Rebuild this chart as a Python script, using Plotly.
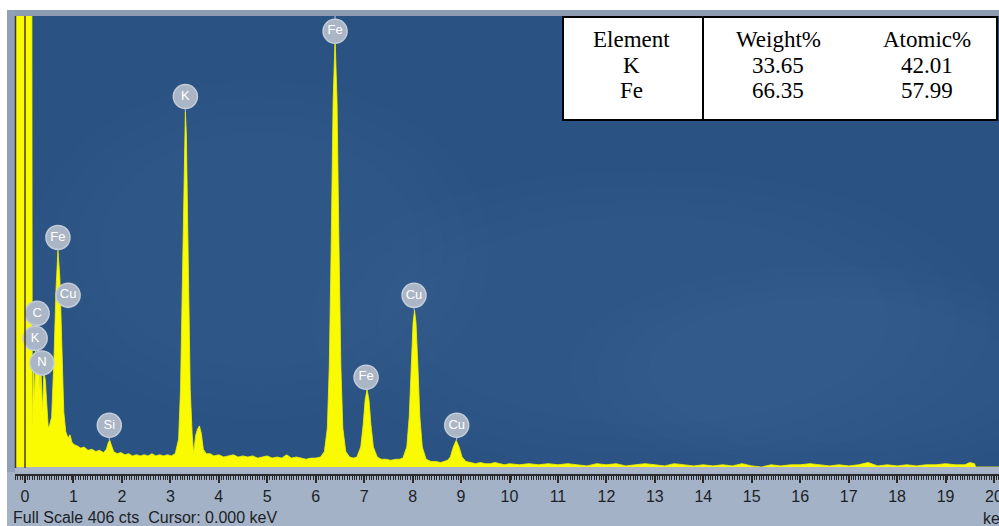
import plotly.graph_objects as go

# ---------------- data ----------------
full_scale = 406          # counts at the top of the plot
cursor_kev = 0.000

spectrum_kev = [
    -0.25, 0.12, 0.15, 0.18, 0.20, 0.22, 0.25, 0.28, 0.31, 0.33, 0.36, 0.39, 0.42, 0.45, 0.48, 0.51,
    0.55, 0.60, 0.64, 0.68, 0.72, 0.76, 0.80, 0.84, 0.89, 0.93, 0.97, 1.02, 1.08, 1.15, 1.22, 1.30,
    1.38, 1.46, 1.54, 1.62, 1.68, 1.72, 1.75, 1.78, 1.83, 1.90, 1.98, 2.06, 2.14, 2.22, 2.30, 2.38,
    2.46, 2.54, 2.62, 2.70, 2.78, 2.86, 2.94, 3.02, 3.10, 3.17, 3.21, 3.25, 3.29, 3.31, 3.33, 3.37,
    3.41, 3.45, 3.48, 3.52, 3.56, 3.60, 3.64, 3.68, 3.74, 3.82, 3.90, 4.00, 4.10, 4.20, 4.30, 4.40,
    4.50, 4.60, 4.70, 4.80, 4.90, 5.00, 5.10, 5.20, 5.30, 5.40, 5.50, 5.60, 5.70, 5.80, 5.90, 6.00,
    6.10, 6.18, 6.24, 6.28, 6.32, 6.36, 6.40, 6.44, 6.48, 6.52, 6.56, 6.62, 6.70, 6.78, 6.85, 6.93,
    6.98, 7.02, 7.06, 7.10, 7.14, 7.19, 7.27, 7.35, 7.45, 7.55, 7.65, 7.73, 7.80, 7.88, 7.93, 7.97,
    8.01, 8.04, 8.07, 8.11, 8.15, 8.20, 8.28, 8.38, 8.48, 8.58, 8.66, 8.72, 8.78, 8.84, 8.90, 8.96,
    9.02, 9.10, 9.20, 9.30, 9.40, 9.50, 9.60, 9.70, 9.80, 9.90, 10.0, 10.2, 10.4, 10.6, 10.8, 11.0,
    11.2, 11.4, 11.6, 11.8, 12.0, 12.2, 12.4, 12.6, 12.8, 13.0, 13.2, 13.4, 13.6, 13.8, 14.0, 14.2,
    14.4, 14.6, 14.8, 15.0, 15.2, 15.4, 15.6, 15.8, 16.0, 16.2, 16.4, 16.6, 16.8, 17.0, 17.2, 17.4,
    17.6, 17.8, 18.0, 18.2, 18.4, 18.6, 18.8, 19.0, 19.2, 19.4, 19.5, 19.6, 19.62, 20.3,
]
spectrum_counts = [
    1500, 1500, 38, 90, 60, 105, 95, 108, 70, 88, 50, 85, 78, 60, 35, 38,
    45, 100, 160, 195, 170, 110, 50, 32, 26, 29, 22, 20, 19, 17, 18, 15,
    16, 14, 15, 13, 16, 22, 24, 20, 14, 12, 13, 11, 12, 10, 11, 10,
    11, 10, 12, 10, 11, 10, 11, 10, 12, 25, 70, 170, 300, 320, 300, 170,
    70, 30, 12, 28, 34, 37, 30, 16, 12, 12, 10, 11, 9, 10, 11, 9,
    10, 9, 10, 8, 9, 10, 8, 9, 8, 11, 8, 9, 8, 7, 8, 8,
    9, 14, 35, 90, 200, 330, 386, 330, 200, 90, 35, 14, 9, 8, 9, 18,
    38, 60, 70, 60, 38, 18, 9, 7, 7, 6, 7, 7, 8, 18, 45, 90,
    130, 141, 130, 90, 45, 18, 7, 5, 5, 4, 5, 6, 9, 18, 24, 18,
    9, 5, 4, 3, 4, 3, 3, 4, 3, 2, 3, 2, 3, 2, 3, 2,
    3, 2, 1, 3, 2, 3, 1, 2, 3, 2, 1, 3, 2, 1, 2, 1,
    2, 1, 3, 1, 0, 2, 1, 2, 2, 3, 2, 1, 2, 1, 2, 4,
    1, 2, 1, 2, 1, 2, 2, 3, 2, 2, 4, 3, 0, 0,
]

# peak identification markers
peak_labels = ["Fe", "Cu", "C", "K", "N", "Si", "K", "Fe", "Fe", "Cu", "Cu"]
peak_kev = [0.68, 0.89, 0.25, 0.21, 0.35, 1.74, 3.31, 6.40, 7.04, 8.03, 8.91]
peak_counts = [195, 143, 105, 105, 82, 24, 320, 386, 70, 141, 24]

# quantification table
table_header = ["Element", "Weight%", "Atomic%"]
table_elements = ["K", "Fe"]
table_weight = [33.65, 66.35]
table_atomic = [42.01, 57.99]

# ---------------- geometry helpers (page pixels -> paper fractions) ----------------
W, H = 999, 526
def px(x):
    return x / W
def py(y):
    return 1 - y / H

PLOT_L, PLOT_T, PLOT_B = 15, 16, 467
KEV0_PX, PX_PER_KEV = 25, 48.45
x_range = [(PLOT_L - KEV0_PX) / PX_PER_KEV, (W - KEV0_PX) / PX_PER_KEV]
cts_per_px = full_scale / (PLOT_B - PLOT_T)

# badge lift above the peak top, in pixels
badge_lift_px = [13, 13, 37, 12, 13, 15, 15, 7, 12, 15, 15]
badge_y = [c + l * cts_per_px for c, l in zip(peak_counts, badge_lift_px)]

fig = go.Figure()

# spectrum
fig.add_trace(go.Scatter(
    x=spectrum_kev, y=spectrum_counts, mode="lines",
    line=dict(color="#f4f400", width=0.8), fill="tozeroy", fillcolor="#fafa00",
    hoverinfo="skip", showlegend=False,
))

# stems from peak tops to badges
sx, sy = [], []
for k, c, b in zip(peak_kev, peak_counts, badge_y):
    sx += [k, k, None]
    sy += [c, b, None]
fig.add_trace(go.Scatter(
    x=sx, y=sy, mode="lines", line=dict(color="#aeb8c7", width=1.2),
    hoverinfo="skip", showlegend=False,
))

# badges
fig.add_trace(go.Scatter(
    x=peak_kev, y=badge_y, mode="markers+text", text=peak_labels,
    textposition="middle center",
    textfont=dict(family="Arial, Liberation Sans", size=13, color="white"),
    marker=dict(size=24, color="#aab5c6", line=dict(color="#c3ccd8", width=1.5)),
    hoverinfo="skip", showlegend=False,
))

shapes = []
# soft lighter patches in the blue background (stacked for soft edges)
for cx, cy, rx, ry in [(650, 320, 340, 150), (830, 370, 260, 105), (260, 250, 230, 170)]:
    for s in (1.0, 0.9, 0.8, 0.7):
        shapes.append(dict(type="circle", xref="paper", yref="paper", layer="below",
                           x0=px(cx - rx * s), x1=px(cx + rx * s),
                           y0=py(cy + ry * s), y1=py(cy - ry * s),
                           fillcolor="rgba(100,140,185,0.03)", line=dict(width=0)))
# window frame pieces
shapes += [
    dict(type="rect", xref="paper", yref="paper", x0=0, x1=px(7), y0=0, y1=1,
         fillcolor="white", line=dict(width=0)),
    dict(type="rect", xref="paper", yref="paper", x0=0, x1=1, y0=py(10), y1=1,
         fillcolor="white", line=dict(width=0)),
    dict(type="rect", xref="paper", yref="paper", x0=px(7), x1=1, y0=py(16), y1=py(10),
         fillcolor="#8e9cb2", line=dict(width=0)),
    dict(type="rect", xref="paper", yref="paper", x0=px(7), x1=px(15), y0=py(472), y1=py(10),
         fillcolor="#8fa0b8", line=dict(width=0)),
    dict(type="rect", xref="paper", yref="paper", x0=px(15), x1=1, y0=py(472), y1=py(467),
         fillcolor="#aab6c8", line=dict(width=0)),
    dict(type="line", xref="paper", yref="paper", x0=px(15.5), x1=px(15.5), y0=py(468), y1=py(16),
         line=dict(color="#3b3a2c", width=1.5)),
]
# cursor line
shapes.append(dict(type="line", xref="x", yref="paper", x0=cursor_kev, x1=cursor_kev,
                   y0=py(468), y1=py(16), line=dict(color="#4b3d12", width=1.5)))
# upward stem on the tallest badge
top_i = peak_counts.index(max(peak_counts))
shapes.append(dict(type="line", xref="x", yref="y", x0=peak_kev[top_i], x1=peak_kev[top_i],
                   y0=badge_y[top_i], y1=full_scale, line=dict(color="#aeb8c7", width=1.2),
                   layer="below"))

# quantification table
TBL_L, TBL_R, TBL_T, TBL_B, TBL_DIV = 563, 997, 17, 120, 703
shapes += [
    dict(type="rect", xref="paper", yref="paper", x0=px(TBL_L), x1=px(TBL_R),
         y0=py(TBL_B), y1=py(TBL_T), fillcolor="white", line=dict(color="black", width=2)),
    dict(type="line", xref="paper", yref="paper", x0=px(TBL_DIV), x1=px(TBL_DIV),
         y0=py(TBL_B), y1=py(TBL_T), line=dict(color="black", width=2)),
]

annotations = []
col_x = [631, 778, 927]
row_y = [39, 65, 90]
serif = dict(family="Liberation Serif, Times New Roman, serif", size=23, color="black")
def centred(x, y, txt, font):
    return dict(x=px(x), y=py(y), xref="paper", yref="paper", xanchor="center",
                yanchor="middle", text=txt, showarrow=False, font=font)
for cx, txt in zip(col_x, table_header):
    annotations.append(centred(cx, row_y[0], txt, serif))
for i, el in enumerate(table_elements):
    for cx, txt in zip(col_x, [el, f"{table_weight[i]:.2f}", f"{table_atomic[i]:.2f}"]):
        annotations.append(centred(cx, row_y[i + 1], txt, serif))

sans = dict(family="Arial, Liberation Sans, sans-serif", size=16, color="#1c1f26")
annotations.append(dict(x=px(11), y=py(517), xref="paper", yref="paper", xanchor="left",
                        yanchor="middle",
                        text=f"Full Scale {full_scale} cts  Cursor: {cursor_kev:.3f} keV",
                        showarrow=False, font=sans))
annotations.append(dict(x=px(981), y=py(518), xref="paper", yref="paper", xanchor="left",
                        yanchor="middle", text="keV", showarrow=False, font=sans))

fig.update_layout(
    width=W, height=H,
    margin=dict(l=0, r=0, t=0, b=0, pad=0, autoexpand=False),
    paper_bgcolor="#a3b2c6",
    plot_bgcolor="#2a5282",
    shapes=shapes,
    annotations=annotations,
    showlegend=False,
    xaxis=dict(
        domain=[px(PLOT_L), 1], range=x_range, anchor="free", position=py(475),
        tickvals=list(range(0, 21)), ticks="outside", ticklen=7, tickwidth=1.5,
        tickcolor="#2a2a2a", showline=True, linecolor="#2a2a2a", linewidth=1.5,
        minor=dict(dtick=0.05, tick0=0, ticks="outside", ticklen=4, tickwidth=1,
                   tickcolor="#2a2a2a"),
        showgrid=False, zeroline=False, automargin=False, ticklabeloverflow="allow",
        tickfont=dict(family="Arial, Liberation Sans, sans-serif", size=16, color="#1c1f26"),
    ),
    yaxis=dict(
        domain=[py(PLOT_B), py(PLOT_T)], range=[0, full_scale], visible=False,
        showgrid=False, zeroline=False, automargin=False, fixedrange=True,
    ),
)

fig.write_html("out.html")
